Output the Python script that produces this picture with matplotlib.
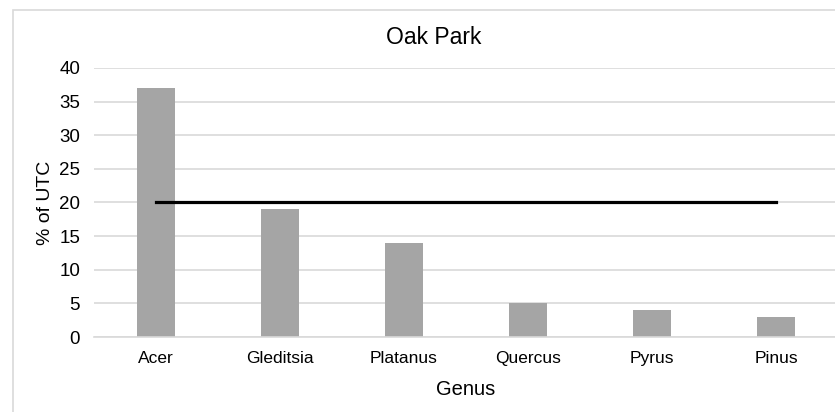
import matplotlib.pyplot as plt
from matplotlib.patches import Rectangle

plt.rcParams['font.family'] = ['Liberation Sans', 'DejaVu Sans']

genus = ["Acer", "Gleditsia", "Platanus", "Quercus", "Pyrus", "Pinus"]
pct_utc = [37, 19, 14, 5, 4, 3]
target = [20, 20, 20, 20, 20, 20]
yticks = [0, 5, 10, 15, 20, 25, 30, 35, 40]

W, H = 835, 412
fig = plt.figure(figsize=(W / 100, H / 100), dpi=100)

# chart border (Excel style), runs off right/bottom edges
fig.patches.append(Rectangle((13 / W, -0.1), 1.2, 1.1 - 10 / H, transform=fig.transFigure,
                             fill=False, edgecolor="#D9D9D9", linewidth=1.2))

ax = fig.add_axes([94 / W, 1 - 337 / H, 744 / W, 269 / H])
x = range(len(genus))
ax.bar(x, pct_utc, width=0.31, color="#A5A5A5", zorder=2)
ax.plot(x, target, color="black", linewidth=2.3, zorder=3)

ax.set_xlim(-0.5, len(genus) - 0.5)
ax.set_ylim(0, 40)
ax.set_yticks(yticks)
ax.set_xticks(list(x))
ax.set_xticklabels(genus)
ax.grid(axis="y", color="#D9D9D9", linewidth=1.2, zorder=0)
ax.set_axisbelow(True)
for s in ["top", "right", "left"]:
    ax.spines[s].set_visible(False)
ax.spines["bottom"].set_color("#D9D9D9")
ax.spines["bottom"].set_linewidth(1.2)
ax.tick_params(axis="x", length=0, labelsize=12.5, colors="#000000", pad=10)
ax.tick_params(axis="y", length=0, labelsize=13.5, colors="#000000", pad=10)

ax.set_ylabel("% of UTC", fontsize=14, labelpad=4)
ax.set_xlabel("Genus", fontsize=14.5, labelpad=10)
fig.text(434 / W, 1 - 38 / H, "Oak Park", ha="center", va="center", fontsize=16.5)

fig.savefig("out.png", dpi=100)
